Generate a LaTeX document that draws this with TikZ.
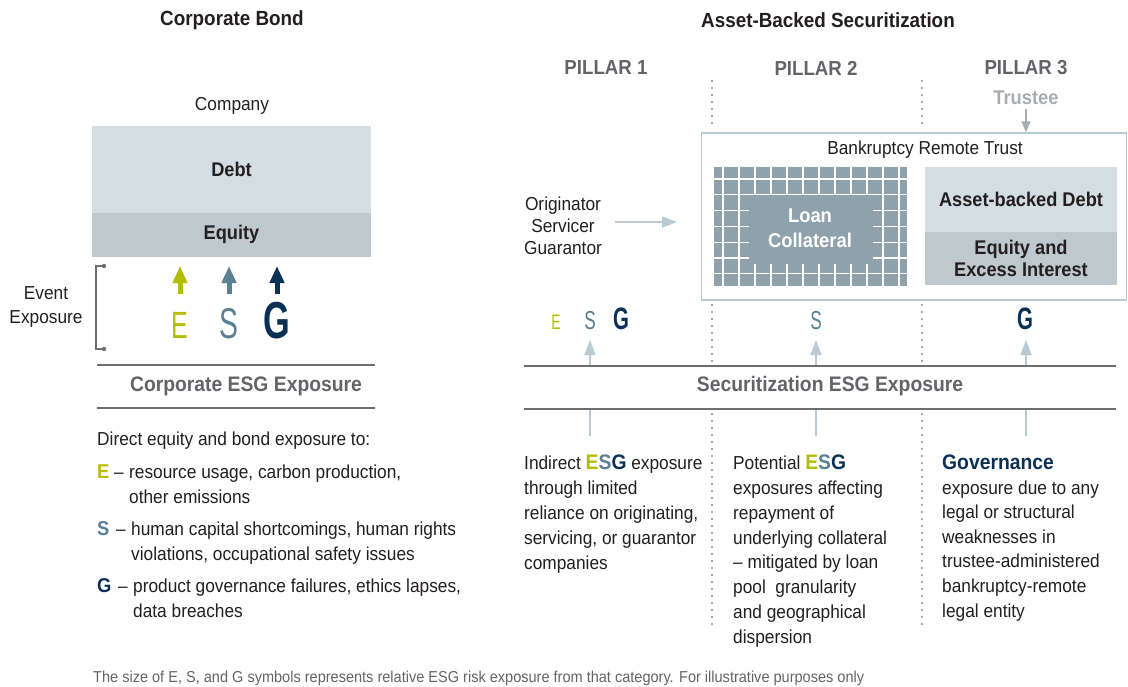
\documentclass[tikz,border=0pt]{standalone}
\usepackage{fontspec}
\setmainfont{Liberation Sans}[FakeStretch=0.92]
\newfontfamily\letterfont{Liberation Sans}[FakeStretch=0.66]
\usetikzlibrary{arrows.meta}
\definecolor{eColor}{RGB}{181,189,0}
\definecolor{sColor}{RGB}{91,127,149}
\definecolor{gColor}{RGB}{10,48,85}
\definecolor{debtColor}{RGB}{211,221,226}
\definecolor{equityColor}{RGB}{191,200,205}
\definecolor{loanColor}{RGB}{143,161,170}
\definecolor{paleColor}{RGB}{186,202,212}
\definecolor{headGray}{RGB}{99,100,104}
\definecolor{softGray}{RGB}{168,172,175}
\definecolor{ruleGray}{RGB}{110,110,114}
\definecolor{dotGray}{RGB}{80,80,84}
\definecolor{inkColor}{RGB}{35,31,32}
\newcommand{\fsz}[2]{\fontsize{#1}{#2}\selectfont}

\begin{document}
\begin{tikzpicture}[x=1pt,y=-1pt,
  txt/.style={inner sep=0pt,text=inkColor,font=\fsz{18.8}{24.8}},
  head/.style={inner sep=0pt,text=inkColor,font=\fsz{20.5}{24}\bfseries},
  pillar/.style={inner sep=0pt,text=headGray,font=\fsz{20.3}{24}\bfseries},
  band/.style={inner sep=0pt,text=headGray,font=\fsz{21}{24}\bfseries},
  boxCell/.style={inner sep=0pt,text=inkColor,font=\fsz{19.8}{22}\bfseries,align=center},
  keyLetter/.style={inner sep=0pt,font=\fsz{20}{24.8}\bfseries},
  bigLetter/.style={inner sep=0pt,anchor=base},
  rule/.style={ruleGray,line width=1.2pt},
  sepLine/.style={dotGray,line width=1.8pt,line cap=round,dash pattern=on 0pt off 7pt},
  bigArrow/.style={line width=5pt,-{Triangle[width=14pt,length=17pt]}},
  paleLink/.style={paleColor,line width=1.6pt,-{Triangle[width=11pt,length=15pt]}},
  ]
\useasboundingbox (0,0) rectangle (1128,686);
\node[head] (cbTitle) at (232,20) {Corporate Bond};
\node[txt] (company) at (232,106) {Company};
\node[boxCell,fill=debtColor,minimum width=279pt,minimum height=87pt] (debt) at (231.5,169) {Debt};
\node[boxCell,fill=equityColor,minimum width=279pt,minimum height=44pt] (equity) at (231.5,234.5) {Equity};
\draw[ruleGray,line width=1.2pt] (104,266) -- (96,266) -- (96,349) -- (104,349);
\fill[ruleGray] (104,266) circle (2.2) (104,349) circle (2.2);
\node[txt,align=center,font=\fsz{18.8}{24}] (eventExp) at (46,307) {Event\\Exposure};
\foreach \k/\L/\cx/\sz/\wt in {e/E/180/38/\mdseries,s/S/229/43/\mdseries,g/G/277/52/\bfseries}
{
  \node[bigLetter,text=\k Color,font=\letterfont\fsz{\sz}{\sz}\wt] (\k Big) at (\cx,338) {\L};
  \coordinate (\k Foot) at (\cx,294);
  \coordinate (\k Tip) at (\cx,266);
  \draw[bigArrow,\k Color] (\k Foot) -- (\k Tip);
}
\draw[rule] (97,365) -- (375,365);
\node[band] (cbBand) at (246,386) {Corporate ESG Exposure};
\draw[rule] (97,408) -- (375,408);
\node[txt,anchor=base west] (cbIntro) at (97,445) {Direct equity and bond exposure to:};
\foreach \k/\L/\yy/\tx/\la/\lb in {e/E/478/129/{resource usage, carbon production,}/{other emissions},s/S/535/131/{human capital shortcomings, human rights}/{violations, occupational safety issues},g/G/592/133/{product governance failures, ethics lapses,}/{data breaches}}
{
  \node[keyLetter,text=\k Color,anchor=base west] (\k Key) at (97,\yy) {\L};
  \node[txt,anchor=base east] (\k Dash) at (\tx-5,\yy) {–};
  \node[txt,anchor=base west,align=left] (\k Text) at (\tx,\yy+25) {\la\\\lb};
}
\node[head] (absTitle) at (828,20) {Asset-Backed Securitization};
\foreach \p/\cx in {1/606,2/816,3/1026}
  \node[pillar] (pillar\p) at (\cx,68) {PILLAR \p};
\foreach \sx in {712,922}
{
  \draw[sepLine] (\sx,81) -- (\sx,130);
  \draw[sepLine] (\sx,305) -- (\sx,362);
  \draw[sepLine] (\sx,414) -- (\sx,628);
}
\node[inner sep=0pt,text=softGray,font=\fsz{19.9}{22}\bfseries] (trustee) at (1026,98) {Trustee};
\node[draw=paleColor,line width=1.5pt,fill=white,minimum width=425pt,minimum height=167pt,inner sep=0pt] (trust) at (914,216.5) {};
\draw[softGray,line width=1.5pt,-{Triangle[width=9pt,length=11pt]},shorten <=4pt] (trustee) -- (trust.north -| trustee);
\node[txt] (trustLbl) at (925,150) {Bankruptcy Remote Trust};
\node[fill=loanColor,minimum width=193pt,minimum height=119pt,inner sep=0pt] (loanPool) at (810.5,226.5) {};
\foreach \gx in {723,739,...,899}
  \draw[white,line width=1.3pt] (\gx,167) -- (\gx,286);
\foreach \gy in {179,194.8,210.6,226.4,242.2,258,273.8}
  \draw[white,line width=1.3pt] (714,\gy) -- (907,\gy);
\fill[loanColor] (749,194.5) rectangle (873,264);
\node[boxCell,text=white,font=\fsz{20}{25}\bfseries] (loanLbl) at (810,228) {Loan\\Collateral};
\node[boxCell,fill=debtColor,minimum width=192pt,minimum height=65pt] (absDebt) at (1021,199.5) {Asset-backed Debt};
\node[boxCell,fill=equityColor,minimum width=192pt,minimum height=53pt] (absEquity) at (1021,258.5) {Equity and\\Excess Interest};
\node[txt,align=center,font=\fsz{18.8}{22}] (orig) at (563,226) {Originator\\Servicer\\Guarantor};
\coordinate (origTip) at (677,222);
\coordinate (origFoot) at (615,222);
\draw[paleLink] (origFoot) -- (origTip);
\node[bigLetter,text=eColor,font=\letterfont\fsz{21}{21}] (eP1) at (556,329) {E};
\node[bigLetter,text=sColor,font=\letterfont\fsz{26}{26}] (sP1) at (590,329) {S};
\node[bigLetter,text=gColor,font=\letterfont\fsz{31}{31}\bfseries] (gP1) at (621,329) {G};
\node[bigLetter,text=sColor,font=\letterfont\fsz{26}{26}] (sP2) at (816,329) {S};
\node[bigLetter,text=gColor,font=\letterfont\fsz{31}{31}\bfseries] (gP3) at (1025,329) {G};
\foreach \cx/\p in {590/1,816/2,1026/3}
{
  \coordinate (bandTop\p) at (\cx,366);
  \coordinate (arrowTip\p) at (\cx,340);
  \draw[paleLink] (bandTop\p) -- (arrowTip\p);
  \coordinate (bandLow\p) at (\cx,409);
  \coordinate (textTop\p) at (\cx,436);
  \draw[paleColor,line width=1.6pt] (bandLow\p) -- (textTop\p);
}
\draw[rule] (524,366) -- (1116,366);
\node[band] (absBand) at (830,386) {Securitization ESG Exposure};
\draw[rule] (524,409) -- (1116,409);
\node[txt,anchor=base west,align=left] (colOne) at (524,569) {Indirect {\fsz{21}{24.8}\bfseries\color{eColor}E\color{sColor}S\color{gColor}G} exposure\\through limited\\reliance on originating,\\servicing, or guarantor\\companies};
\node[txt,anchor=base west,align=left] (colTwo) at (733,643.25) {Potential {\fsz{21}{24.8}\bfseries\color{eColor}E\color{sColor}S\color{gColor}G}\\exposures affecting\\repayment of\\underlying collateral\\– mitigated by loan\\pool \ granularity\\and geographical\\dispersion};
\node[inner sep=0pt,anchor=base west,text=gColor,font=\fsz{21}{24}\bfseries] (govHead) at (942,469) {Governance};
\node[txt,anchor=base west,align=left,font=\fsz{18.8}{24.6}] (colThree) at (942,617) {exposure due to any\\legal or structural\\weaknesses in\\trustee-administered\\bankruptcy-remote\\legal entity};
\node[inner sep=0pt,anchor=base west,text=headGray,font=\fsz{15.8}{18}] (note) at (93,682) {The size of E, S, and G symbols represents relative ESG risk exposure from that category. For illustrative purposes only};
\end{tikzpicture}
\end{document}
